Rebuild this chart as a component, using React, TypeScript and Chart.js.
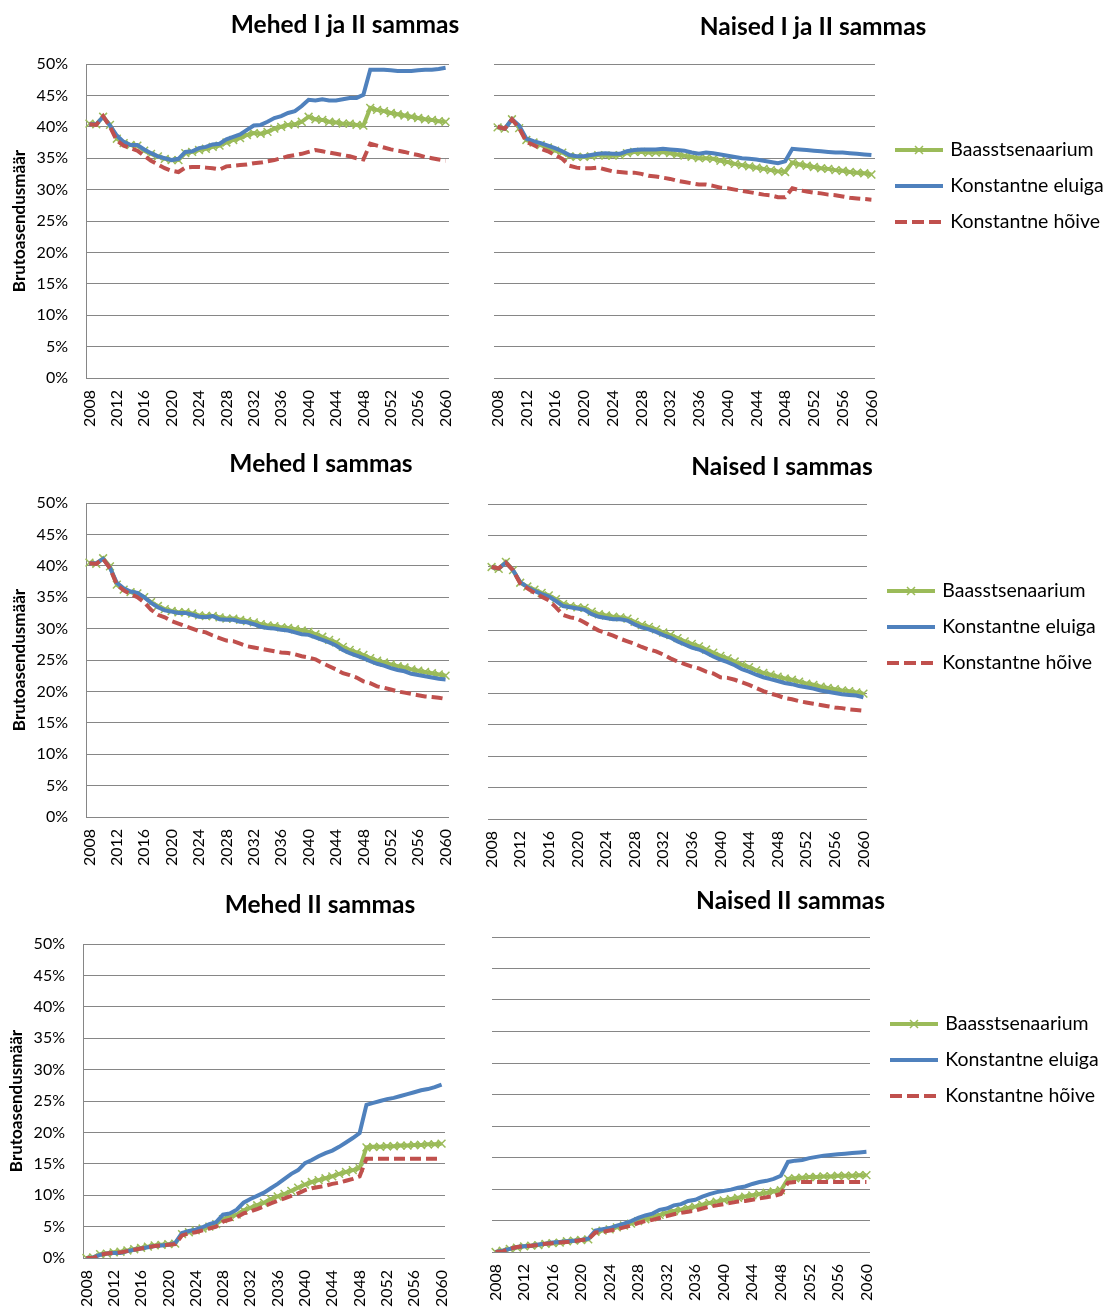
import React, { useEffect, useRef } from 'react';
import { Chart, registerables } from 'chart.js';

Chart.register(...registerables);

// ---------- DATA ----------
const years = [
  '2008', '2009', '2010', '2011', '2012', '2013', '2014', '2015', '2016', '2017',
  '2018', '2019', '2020', '2021', '2022', '2023', '2024', '2025', '2026', '2027',
  '2028', '2029', '2030', '2031', '2032', '2033', '2034', '2035', '2036', '2037',
  '2038', '2039', '2040', '2041', '2042', '2043', '2044', '2045', '2046', '2047',
  '2048', '2049', '2050', '2051', '2052', '2053', '2054', '2055', '2056', '2057',
  '2058', '2059', '2060',
];
const seriesNames = ['Baasstsenaarium', 'Konstantne eluiga', 'Konstantne hõive'];
const yAxisTitle = 'Brutoasendusmäär';
const yMin = 0;
const yMax = 50;
const yStep = 5;
const xLabelEvery = 4;

// Mehed I ja II sammas
const menBothBase = [
  40.5, 40.4, 41.6, 40.3, 38.1, 37.4, 37.1, 37.0, 36.2, 35.7,
  35.3, 34.9, 34.7, 34.7, 35.8, 36.0, 36.3, 36.5, 36.8, 37.0,
  37.5, 37.9, 38.2, 38.7, 39.0, 38.9, 39.2, 39.7, 40.0, 40.3,
  40.4, 40.8, 41.6, 41.2, 41.1, 40.8, 40.7, 40.5, 40.5, 40.3,
  40.2, 43.0, 42.7, 42.5, 42.2, 42.0, 41.8, 41.6, 41.4, 41.2,
  41.1, 40.9, 40.8,
];
const menBothLife = [
  40.4, 40.4, 41.6, 40.2, 38.6, 37.6, 37.1, 37.1, 36.4, 35.8,
  35.3, 35.0, 34.7, 34.9, 36.0, 36.1, 36.6, 36.8, 37.2, 37.3,
  38.0, 38.4, 38.8, 39.5, 40.2, 40.3, 40.8, 41.4, 41.7, 42.2,
  42.5, 43.3, 44.3, 44.2, 44.4, 44.2, 44.2, 44.4, 44.6, 44.6,
  45.1, 49.1, 49.1, 49.1, 49.0, 48.9, 48.9, 48.9, 49.0, 49.1,
  49.1, 49.2, 49.4,
];
const menBothEmp = [
  40.4, 40.3, 41.7, 40.0, 37.8, 37.0, 36.6, 36.2, 35.4, 34.6,
  34.0, 33.4, 33.0, 32.8, 33.5, 33.6, 33.6, 33.5, 33.4, 33.2,
  33.7, 33.8, 33.9, 34.0, 34.2, 34.3, 34.5, 34.7, 35.0, 35.3,
  35.5, 35.7, 36.0, 36.3, 36.1, 35.9, 35.7, 35.5, 35.3, 35.0,
  34.8, 37.3, 37.0, 36.7, 36.4, 36.2, 36.0, 35.7, 35.5, 35.2,
  35.0, 34.8, 34.6,
];

// Naised I ja II sammas
const womenBothBase = [
  39.9, 39.7, 41.2, 39.8, 37.9, 37.5, 37.1, 36.7, 36.2, 35.9,
  35.3, 35.2, 35.2, 35.3, 35.5, 35.4, 35.4, 35.5, 35.8, 36.0,
  36.0, 35.9, 35.9, 36.0, 35.8, 35.6, 35.4, 35.2, 35.0, 35.0,
  34.9, 34.6, 34.4, 34.1, 33.9, 33.7, 33.5, 33.3, 33.1, 32.9,
  32.8, 34.3, 34.0, 33.8, 33.6, 33.4, 33.3, 33.1, 33.0, 32.8,
  32.7, 32.6, 32.4,
];
const womenBothLife = [
  40.0, 39.7, 41.2, 40.2, 38.1, 37.7, 37.4, 37.0, 36.6, 36.1,
  35.5, 35.3, 35.3, 35.5, 35.7, 35.8, 35.7, 35.7, 36.1, 36.3,
  36.4, 36.4, 36.4, 36.5, 36.4, 36.3, 36.2, 35.9, 35.7, 35.9,
  35.8, 35.6, 35.4, 35.2, 35.0, 34.9, 34.8, 34.6, 34.4, 34.2,
  34.5, 36.5, 36.4, 36.3, 36.2, 36.1, 36.0, 35.9, 35.9, 35.8,
  35.7, 35.6, 35.5,
];
const womenBothEmp = [
  40.0, 39.7, 41.2, 39.8, 37.6, 37.1, 36.5, 36.1, 35.5, 34.9,
  33.8, 33.5, 33.4, 33.4, 33.5, 33.2, 32.9, 32.8, 32.7, 32.7,
  32.5, 32.2, 32.1, 31.9, 31.7, 31.4, 31.2, 31.0, 30.8, 30.8,
  30.6, 30.3, 30.2, 30.0, 29.8, 29.6, 29.4, 29.2, 29.1, 28.8,
  28.8, 30.2, 29.9, 29.7, 29.5, 29.4, 29.2, 29.1, 28.9, 28.7,
  28.6, 28.5, 28.4,
];

// Mehed I sammas
const menFirstBase = [
  40.5, 40.3, 41.2, 39.9, 37.0, 36.2, 35.8, 35.6, 35.0, 34.2,
  33.6, 33.1, 32.8, 32.6, 32.6, 32.4, 32.1, 32.0, 32.0, 31.8,
  31.6, 31.6, 31.4, 31.2, 31.0, 30.7, 30.5, 30.4, 30.2, 30.1,
  29.9, 29.7, 29.5, 29.1, 28.7, 28.2, 27.8, 27.1, 26.6, 26.2,
  25.8, 25.3, 24.9, 24.6, 24.3, 24.0, 23.8, 23.5, 23.3, 23.1,
  22.9, 22.7, 22.5,
];
const menFirstLife = [
  40.4, 40.4, 41.1, 39.7, 37.3, 36.4, 35.9, 35.7, 35.0, 34.1,
  33.4, 32.9, 32.7, 32.5, 32.5, 32.2, 31.9, 31.8, 32.0, 31.5,
  31.4, 31.4, 31.1, 31.0, 30.7, 30.3, 30.1, 30.0, 29.8, 29.7,
  29.4, 29.1, 29.0, 28.6, 28.2, 27.8, 27.3, 26.6, 26.1, 25.7,
  25.3, 24.8, 24.4, 24.1, 23.7, 23.4, 23.2, 22.8, 22.6, 22.4,
  22.2, 22.0, 21.9,
];
const menFirstEmp = [
  40.4, 40.3, 41.1, 39.6, 37.0, 36.1, 35.5, 35.0, 34.2, 33.0,
  32.2, 31.8, 31.2, 30.8, 30.4, 30.0, 29.6, 29.4, 28.9, 28.5,
  28.1, 28.0, 27.6, 27.2, 27.0, 26.8, 26.6, 26.4, 26.2, 26.1,
  25.9, 25.6, 25.4, 25.1, 24.5, 24.0, 23.5, 22.9, 22.6, 22.2,
  21.6, 21.3, 20.8, 20.6, 20.3, 20.0, 19.8, 19.6, 19.4, 19.2,
  19.1, 19.0, 18.8,
];

// Naised I sammas
const womenFirstBase = [
  40.0, 39.7, 40.8, 39.5, 37.5, 36.9, 36.4, 35.9, 35.5, 34.9,
  34.1, 33.8, 33.6, 33.5, 32.9, 32.5, 32.3, 32.1, 32.0, 31.8,
  31.3, 30.8, 30.5, 30.1, 29.6, 29.2, 28.7, 28.2, 27.8, 27.4,
  26.9, 26.4, 25.9, 25.5, 25.0, 24.5, 24.1, 23.6, 23.2, 22.9,
  22.6, 22.3, 22.1, 21.8, 21.5, 21.3, 21.0, 20.8, 20.6, 20.4,
  20.3, 20.1, 19.9,
];
const womenFirstLife = [
  40.0, 39.8, 40.7, 39.5, 37.6, 36.8, 36.2, 35.7, 35.3, 34.6,
  33.8, 33.6, 33.4, 33.2, 32.5, 32.1, 31.9, 31.7, 31.7, 31.5,
  30.9, 30.4, 30.1, 29.7, 29.2, 28.8, 28.2, 27.7, 27.2, 26.9,
  26.4, 25.8, 25.3, 24.9, 24.4, 23.8, 23.4, 22.9, 22.5, 22.2,
  21.9, 21.6, 21.4, 21.1, 20.9, 20.7, 20.4, 20.2, 20.0, 19.8,
  19.7, 19.6, 19.3,
];
const womenFirstEmp = [
  40.0, 39.8, 40.7, 39.5, 37.4, 36.6, 35.9, 35.3, 34.7, 33.6,
  32.4, 32.0, 31.8, 31.2, 30.5, 29.9, 29.5, 29.1, 28.6, 28.2,
  27.8, 27.3, 26.9, 26.6, 26.1, 25.5, 25.0, 24.6, 24.2, 23.9,
  23.4, 23.1, 22.5, 22.4, 22.1, 21.7, 21.3, 20.8, 20.3, 19.9,
  19.6, 19.2, 19.0, 18.7, 18.5, 18.3, 18.1, 17.9, 17.7, 17.6,
  17.4, 17.3, 17.2,
];

// Mehed II sammas
const menSecondBase = [
  0.0, 0.1, 0.6, 0.7, 0.9, 1.0, 1.2, 1.4, 1.6, 1.8,
  2.0, 2.1, 2.2, 2.3, 3.8, 4.1, 4.4, 4.7, 5.0, 5.4,
  6.2, 6.5, 6.9, 7.6, 8.0, 8.4, 8.8, 9.4, 9.8, 10.2,
  10.7, 11.2, 11.7, 12.1, 12.4, 12.7, 13.0, 13.4, 13.7, 14.0,
  14.3, 17.6, 17.7, 17.7, 17.8, 17.8, 17.9, 17.9, 18.0, 18.0,
  18.1, 18.1, 18.2,
];
const menSecondLife = [
  0.0, 0.1, 0.5, 0.7, 0.8, 0.8, 1.1, 1.3, 1.5, 1.7,
  1.9, 2.0, 2.1, 2.4, 4.0, 4.3, 4.5, 4.9, 5.4, 5.7,
  6.9, 7.1, 7.7, 8.8, 9.4, 9.9, 10.4, 11.1, 11.8, 12.6,
  13.4, 14.0, 15.1, 15.6, 16.2, 16.7, 17.1, 17.7, 18.4, 19.1,
  19.9, 24.4, 24.7, 25.0, 25.3, 25.5, 25.8, 26.1, 26.4, 26.7,
  26.9, 27.2, 27.6,
];
const menSecondEmp = [
  0.0, 0.0, 0.5, 0.7, 0.8, 0.9, 1.1, 1.3, 1.5, 1.7,
  1.9, 2.0, 2.1, 2.2, 3.6, 3.9, 4.1, 4.4, 4.7, 5.0,
  5.8, 6.1, 6.5, 7.1, 7.4, 7.8, 8.2, 8.7, 9.1, 9.5,
  9.9, 10.3, 10.8, 11.1, 11.3, 11.5, 11.8, 12.0, 12.3, 12.6,
  13.0, 15.8, 15.8, 15.8, 15.8, 15.8, 15.8, 15.8, 15.8, 15.8,
  15.8, 15.8, 15.8,
];

// Naised II sammas
const womenSecondBase = [
  0.0, 0.2, 0.5, 0.7, 0.9, 1.0, 1.1, 1.3, 1.4, 1.5,
  1.7, 1.8, 1.9, 2.0, 3.2, 3.4, 3.6, 3.9, 4.2, 4.5,
  4.9, 5.2, 5.5, 5.9, 6.2, 6.5, 6.7, 7.0, 7.2, 7.5,
  7.8, 8.0, 8.2, 8.4, 8.6, 8.8, 9.0, 9.2, 9.4, 9.6,
  9.8, 11.6, 11.7, 11.8, 11.9, 11.9, 12.0, 12.0, 12.1, 12.1,
  12.1, 12.2, 12.2,
];
const womenSecondLife = [
  0.0, 0.2, 0.5, 0.8, 0.9, 1.0, 1.2, 1.3, 1.5, 1.6,
  1.7, 1.8, 1.9, 2.1, 3.4, 3.6, 3.8, 4.2, 4.5, 4.9,
  5.4, 5.8, 6.1, 6.7, 6.9, 7.4, 7.6, 8.1, 8.3, 8.8,
  9.2, 9.5, 9.7, 9.9, 10.2, 10.4, 10.8, 11.1, 11.3, 11.6,
  12.1, 14.3, 14.5, 14.6, 14.9, 15.1, 15.3, 15.4, 15.5, 15.6,
  15.7, 15.8, 15.9,
];
const womenSecondEmp = [
  0.0, 0.1, 0.5, 0.8, 0.9, 1.0, 1.1, 1.3, 1.4, 1.5,
  1.6, 1.7, 1.9, 2.0, 3.1, 3.2, 3.4, 3.6, 3.9, 4.2,
  4.6, 4.9, 5.1, 5.4, 5.7, 6.0, 6.2, 6.4, 6.6, 6.9,
  7.2, 7.4, 7.6, 7.8, 8.0, 8.1, 8.3, 8.5, 8.7, 8.9,
  9.2, 11.0, 11.1, 11.1, 11.1, 11.1, 11.1, 11.1, 11.1, 11.1,
  11.1, 11.1, 11.1,
];

// ---------- STYLE ----------
const FONT = 'Lato, "Open Sans", sans-serif';
const COLOR_BASE = '#9BBB59';
const COLOR_LIFE = '#4F81BD';
const COLOR_EMP = '#C0504D';
const GRID_COLOR = '#868686';
const TITLE_SIZE = 24.5;
const TICK_SIZE = 16;
const AXIS_TITLE_SIZE = 17;
const LEGEND_SIZE = 19.5;
const LEGEND_PAD = 16.5;
const LEGEND_BOX = 49;
const LEGEND_TITLE_SIZE = 10;

type Panel = {
  title: string;
  side: 'left' | 'right';
  base: number[];
  life: number[];
  emp: number[];
  x: number; y: number; w: number; h: number;
  plotLeft: number; plotRight: number; plotTop: number; plotBottom: number;
  titleCX: number; titleCY: number; yTitleCX: number; legendCY: number;
};

// plotLeft/plotRight/titleCX are page x; plotTop/plotBottom/titleCY/legendCY are relative to the canvas top
const PANELS: Panel[] = [
  { title: 'Mehed I ja II sammas', side: 'left', base: menBothBase, life: menBothLife, emp: menBothEmp,
    x: 0, y: 0, w: 480, h: 440, plotLeft: 86, plotRight: 449, plotTop: 64, plotBottom: 378,
    titleCX: 345, titleCY: 25, yTitleCX: 20, legendCY: 0 },
  { title: 'Naised I ja II sammas', side: 'right', base: womenBothBase, life: womenBothLife, emp: womenBothEmp,
    x: 480, y: 0, w: 626, h: 440, plotLeft: 494, plotRight: 875, plotTop: 64, plotBottom: 378,
    titleCX: 813, titleCY: 27, yTitleCX: 0, legendCY: 150 },
  { title: 'Mehed I sammas', side: 'left', base: menFirstBase, life: menFirstLife, emp: menFirstEmp,
    x: 0, y: 440, w: 480, h: 440, plotLeft: 86, plotRight: 449, plotTop: 63, plotBottom: 377,
    titleCX: 321, titleCY: 24.5, yTitleCX: 19.7, legendCY: 0 },
  { title: 'Naised I sammas', side: 'right', base: womenFirstBase, life: womenFirstLife, emp: womenFirstEmp,
    x: 480, y: 440, w: 626, h: 440, plotLeft: 488, plotRight: 867, plotTop: 64, plotBottom: 379,
    titleCX: 782, titleCY: 27.3, yTitleCX: 0, legendCY: 151 },
  { title: 'Mehed II sammas', side: 'left', base: menSecondBase, life: menSecondLife, emp: menSecondEmp,
    x: 0, y: 880, w: 480, h: 427, plotLeft: 83, plotRight: 445, plotTop: 64, plotBottom: 378,
    titleCX: 320, titleCY: 25, yTitleCX: 16.7, legendCY: 0 },
  { title: 'Naised II sammas', side: 'right', base: womenSecondBase, life: womenSecondLife, emp: womenSecondEmp,
    x: 480, y: 880, w: 626, h: 427, plotLeft: 492, plotRight: 870, plotTop: 57, plotBottom: 372,
    titleCX: 790.5, titleCY: 21.3, yTitleCX: 0, legendCY: 144 },
];

// Moves the chart title so that its centre sits at a given x (canvas coordinates)
const titleShift = {
  id: 'titleShift',
  afterLayout(chart: any, _args: any, opts: any) {
    const t = chart.titleBlock;
    if (!t || !opts || typeof opts.center !== 'number') return;
    const dx = opts.center - (t.left + t.right) / 2;
    t.left += dx;
    t.right += dx;
  },
};

function makeSymbol(color: string, dash: number[], marker: boolean): HTMLCanvasElement {
  const c = document.createElement('canvas');
  c.width = 56;
  c.height = 14;
  const g = c.getContext('2d');
  if (!g) return c;
  g.strokeStyle = color;
  g.lineWidth = 4;
  g.setLineDash(dash);
  g.beginPath();
  g.moveTo(7, 7);
  g.lineTo(55, 7);
  g.stroke();
  if (marker) {
    g.setLineDash([]);
    g.lineWidth = 1.5;
    const cx = 31, cy = 7, r = 4;
    g.beginPath();
    g.moveTo(cx - r, cy - r);
    g.lineTo(cx + r, cy + r);
    g.moveTo(cx - r, cy + r);
    g.lineTo(cx + r, cy - r);
    g.stroke();
  }
  return c;
}

function measureLegendText(): number {
  const c = document.createElement('canvas');
  const g = c.getContext('2d');
  if (!g) return 150;
  g.font = `${LEGEND_SIZE}px ${FONT}`;
  return Math.max(...seriesNames.map((s) => g.measureText(s).width));
}

function ChartPanel({ p }: { p: Panel }) {
  const ref = useRef<HTMLCanvasElement | null>(null);

  useEffect(() => {
    if (!ref.current) return;
    Chart.defaults.font.family = FONT;
    Chart.defaults.color = '#000';
    const isRight = p.side === 'right';
    const symbols = [
      makeSymbol(COLOR_BASE, [], true),
      makeSymbol(COLOR_LIFE, [], false),
      makeSymbol(COLOR_EMP, [12, 5], false),
    ];
    const colors = [COLOR_BASE, COLOR_LIFE, COLOR_EMP];

    // layout numbers
    const titleLH = TITLE_SIZE * 1.2;
    const tTop = p.titleCY - titleLH / 2;
    const tBottom = p.plotTop - tTop - titleLH;
    const yAxisW = p.plotLeft - p.x;
    const xAxisH = p.h - p.plotBottom;
    const yTitlePad = p.yTitleCX - (AXIS_TITLE_SIZE * 1.2) / 2;
    const avail = p.x + p.w - p.plotRight;
    let padR = avail;
    let legendW = 0;
    if (isRight) {
      const natural = LEGEND_PAD + LEGEND_BOX + LEGEND_SIZE / 2 + measureLegendText() + 10;
      legendW = Math.min(natural, avail);
      padR = avail - legendW;
    }
    const legendTitlePad = p.legendCY - LEGEND_TITLE_SIZE * 1.2 - LEGEND_PAD - LEGEND_SIZE / 2;

    const chart = new Chart(ref.current, {
      type: 'line',
      data: {
        labels: years,
        datasets: [
          {
            label: seriesNames[0], data: p.base, borderColor: COLOR_BASE, backgroundColor: COLOR_BASE,
            borderWidth: 4, tension: 0, pointStyle: 'crossRot', pointRadius: 5.5, pointBorderWidth: 1.5,
            pointBorderColor: COLOR_BASE, pointBackgroundColor: COLOR_BASE, order: 3,
          },
          {
            label: seriesNames[1], data: p.life, borderColor: COLOR_LIFE, backgroundColor: COLOR_LIFE,
            borderWidth: 4, tension: 0, pointRadius: 0, order: 2,
          },
          {
            label: seriesNames[2], data: p.emp, borderColor: COLOR_EMP, backgroundColor: COLOR_EMP,
            borderWidth: 4, tension: 0, pointRadius: 0, borderDash: [11, 5], order: 1,
          },
        ],
      },
      options: {
        responsive: false,
        animation: false,
        devicePixelRatio: 1,
        events: [],
        layout: { padding: { left: 0, right: padR, top: 0, bottom: 0 } },
        scales: {
          x: {
            type: 'category',
            offset: true,
            grid: { display: false, drawTicks: false },
            border: { display: false },
            ticks: {
              autoSkip: false, minRotation: 90, maxRotation: 90, padding: 12, color: '#000',
              font: { size: TICK_SIZE, family: FONT },
              callback: (_v: any, i: number) => (i % xLabelEvery === 0 ? years[i] : null),
            },
            afterFit: (s: any) => { s.height = xAxisH; s.paddingLeft = 0; s.paddingRight = 0; },
          },
          y: {
            min: yMin, max: yMax,
            grid: { color: GRID_COLOR, lineWidth: 1, drawTicks: false },
            border: { display: !isRight, color: GRID_COLOR, width: 1 },
            ticks: {
              display: !isRight, stepSize: yStep, padding: 18, color: '#000',
              font: { size: TICK_SIZE, family: FONT },
              callback: (v: any) => `${v}%`,
            },
            title: {
              display: !isRight, text: yAxisTitle, color: '#000',
              font: { size: AXIS_TITLE_SIZE, weight: 'bold', family: FONT },
              padding: { top: yTitlePad, bottom: 0 },
            },
            afterFit: (s: any) => { s.width = yAxisW; },
          },
        },
        plugins: {
          title: {
            display: true, text: p.title, color: '#000',
            font: { size: TITLE_SIZE, weight: 'bold', family: FONT },
            padding: { top: tTop, bottom: tBottom },
          },
          legend: isRight
            ? {
                display: true, position: 'right', align: 'start', maxWidth: legendW,
                title: { display: true, text: '', font: { size: LEGEND_TITLE_SIZE }, padding: { top: legendTitlePad, bottom: 0 } },
                labels: {
                  usePointStyle: true, pointStyleWidth: LEGEND_BOX, padding: LEGEND_PAD, color: '#000',
                  font: { size: LEGEND_SIZE, family: FONT },
                  generateLabels: () => seriesNames.map((name, i) => ({
                    text: name, pointStyle: symbols[i] as any, fillStyle: colors[i], strokeStyle: colors[i],
                    lineWidth: 0, hidden: false, datasetIndex: i, fontColor: '#000',
                  })),
                },
              }
            : { display: false },
          tooltip: { enabled: false },
          titleShift: { center: p.titleCX - p.x },
        } as any,
      },
      plugins: [titleShift as any],
    } as any);

    return () => chart.destroy();
  }, [p]);

  return (
    <canvas
      ref={ref}
      width={p.w}
      height={p.h}
      style={{ position: 'absolute', left: p.x, top: p.y, width: p.w, height: p.h }}
    />
  );
}

export default function App() {
  return (
    <div style={{ position: 'absolute', left: 0, top: 0, width: 1106, height: 1307, overflow: 'hidden', background: '#fff' }}>
      {PANELS.map((p) => (
        <ChartPanel key={p.title} p={p} />
      ))}
    </div>
  );
}
